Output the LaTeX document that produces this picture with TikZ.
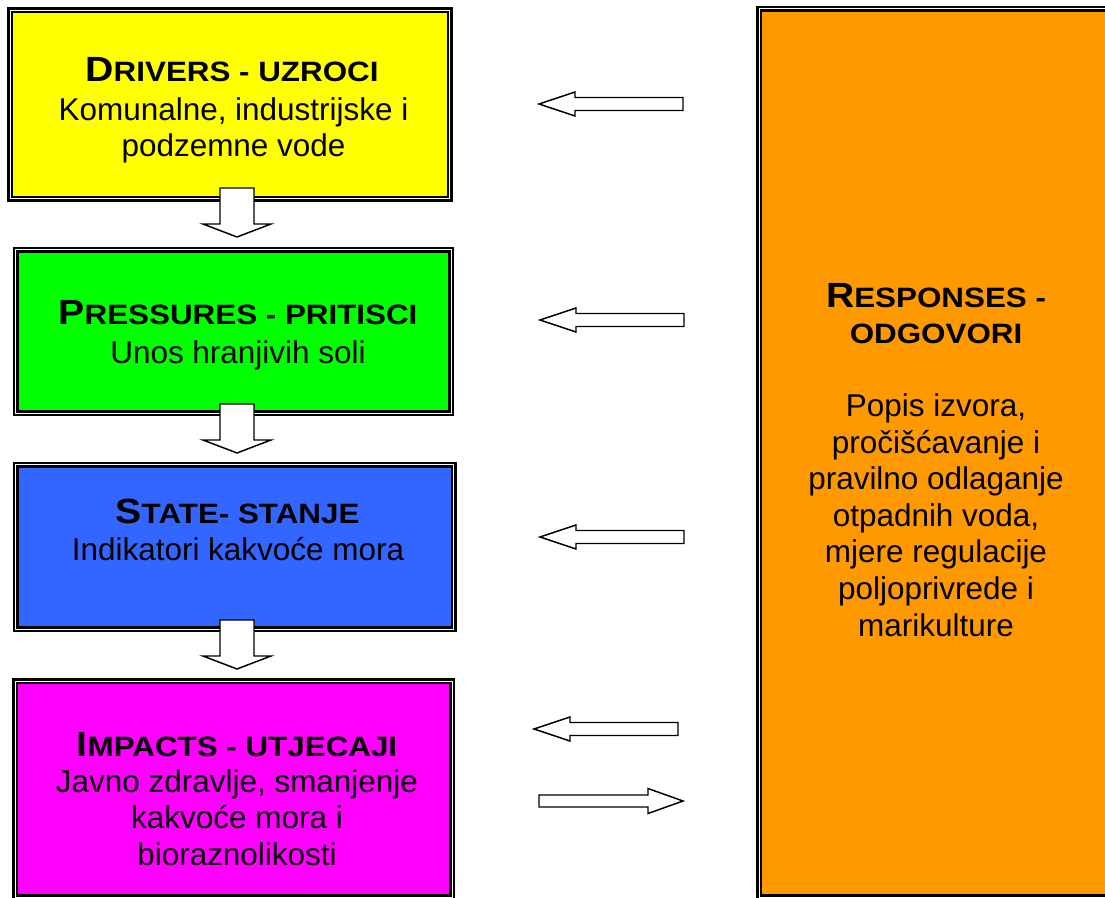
\documentclass[tikz,border=0pt]{standalone}
\usepackage{fontspec}
\setmainfont{Liberation Sans}
\usepackage{graphicx}
\definecolor{cyel}{HTML}{FFFF00}
\definecolor{cgrn}{HTML}{00FF00}
\definecolor{cblu}{HTML}{3366FF}
\definecolor{cmag}{HTML}{FF00FF}
\definecolor{corg}{HTML}{FF9900}
\newcommand\dpttl[2]{\scalebox{1.12}[1]{\bfseries\fontsize{26.25}{27}\selectfont #1\fontsize{21}{27}\selectfont #2}}
\newcommand\dpsc[1]{\scalebox{1.12}[1]{\bfseries\fontsize{21}{27}\selectfont #1}}
\begin{document}
\begin{tikzpicture}[x=0.75pt,y=-0.75pt,
  box/.style={rectangle, draw=black, line width=1.875pt, double=white, double distance=0.75pt, inner sep=0pt},
  barrow/.style={draw=black, fill=white, line width=1.1pt, line join=miter},
  bodytxt/.style={align=center, anchor=base, inner sep=0pt, font=\fontsize{23.6}{27.4}\selectfont},
  headtxt/.style={align=center, anchor=base, inner sep=0pt, font=\fontsize{21}{27}\selectfont},
  darrow/.pic={\draw[barrow] (-17,0) -- (17,0) -- (17,36) -- (34,36) -- (0,49) -- (-34,36) -- (-17,36) -- cycle;},
  larrow/.pic={\draw[barrow] (0,0) -- (36,-12) -- (36,-6.5) -- (144,-6.5) -- (144,6.5) -- (36,6.5) -- (36,12) -- cycle;},
  rarrow/.pic={\draw[barrow] (0,0) -- (-35,-12.5) -- (-35,-6) -- (-144,-6) -- (-144,6) -- (-35,6) -- (-35,12.5) -- cycle;}
]
\path[use as bounding box] (0,0) rectangle (1105,898);
\clip (0,0) rectangle (1105,898);

% boxes
\node[box, fill=cyel, minimum width=439.4*0.75pt, minimum height=188.4*0.75pt] (drv) at (230,104.5) {};
\node[box, fill=cgrn, minimum width=435.3*0.75pt, minimum height=163.3*0.75pt] (prs) at (233.35,331.35) {};
\node[box, fill=cblu, minimum width=438*0.75pt, minimum height=164.6*0.75pt] (stt) at (234.7,547) {};
\node[box, fill=cmag, minimum width=436.7*0.75pt, minimum height=215.7*0.75pt] (imp) at (233.65,789.15) {};
\node[box, fill=corg, minimum width=354*0.75pt, minimum height=888*0.75pt] (rsp) at (936,453) {};

% texts (multi-line nodes: base = last line)
\node[headtxt] (drvT) at (232,82) {\dpttl{D}{RIVERS - UZROCI}};
\node[bodytxt] (drvB) at (233.5,157) {Komunalne, industrijske i\\podzemne vode};
\node[headtxt] (prsT) at (238,325) {\dpttl{P}{RESSURES - PRITISCI}};
\node[bodytxt] (prsB) at (238,363) {Unos hranjivih soli};
\node[headtxt] (sttT) at (237.5,523) {\dpttl{S}{TATE- STANJE}};
\node[bodytxt] (sttB) at (238,560) {Indikatori kakvoće mora};
\node[headtxt] (impT) at (237,756.7) {\dpttl{I}{MPACTS - UTJECAJI}};
\node[bodytxt] (impB) at (237,865.5) {Javno zdravlje, smanjenje\\kakvoće mora i\\bioraznolikosti};
\node[headtxt] (rspT1) at (936,307) {\dpttl{R}{ESPONSES -}};
\node[headtxt] (rspT2) at (936,343) {\dpsc{ODGOVORI}};
\node[bodytxt] (rspB) at (936,636) {Popis izvora,\\pročišćavanje i\\pravilno odlaganje\\otpadnih voda,\\mjere regulacije\\poljoprivrede i\\marikulture};

% block arrows
\pic at (237,188) {darrow};
\pic at (237,404) {darrow};
\pic at (237,620) {darrow};
\pic at (539,104) {larrow};
\pic at (540,320) {larrow};
\pic at (540,537) {larrow};
\pic at (534,729) {larrow};
\pic at (683,801) {rarrow};
\end{tikzpicture}
\end{document}
